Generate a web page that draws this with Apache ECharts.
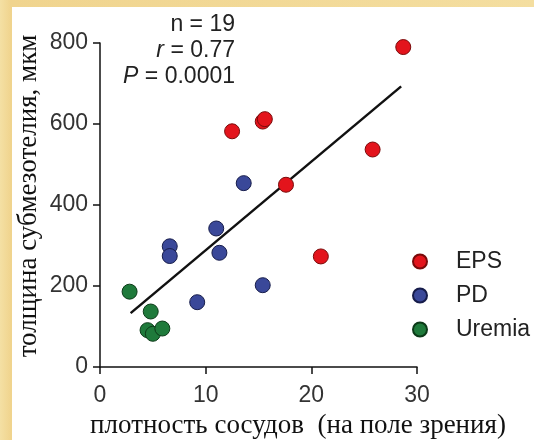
<!DOCTYPE html>
<html>
<head>
<meta charset="utf-8">
<script src="https://cdn.jsdelivr.net/npm/echarts@6/dist/echarts.min.js"></script>
<style>
  html,body{margin:0;padding:0;}
  body{width:534px;height:440px;background:linear-gradient(90deg,#f4e0a4,#f0d48e 2%,#f4dea0);position:relative;overflow:hidden;}
  #paper{position:absolute;left:12px;top:7px;width:522px;height:433px;background:#fff;}
  #chart{position:absolute;left:0;top:0;width:534px;height:440px;}
</style>
</head>
<body>
<div id="paper"></div>
<div id="chart"></div>
<script>
// группы и значения (плотность сосудов, толщина субмезотелия)
let groups = ["EPS", "PD", "Uremia"];
let epsX = [28.7, 12.5, 15.4, 15.6, 25.8, 17.6, 20.9];
let epsY = [790, 582, 606, 612, 537, 450, 273];
let pdX = [13.6, 11.0, 6.6, 6.6, 11.3, 15.4, 9.2];
let pdY = [454, 342, 298, 274, 282, 202, 160];
let uremiaX = [2.8, 4.8, 4.5, 5.0, 5.9];
let uremiaY = [186, 137, 91, 82, 95];
// линия регрессии (концы)
let lineX = [2.9, 28.5];
let lineY = [133, 693];
let xTicks = [0, 10, 20, 30];
let yTicks = [0, 200, 400, 600, 800];
let colors = ["#e3141c", "#3a4899", "#1f7a3b"];
let borders = ["#7a0a0a", "#161c4a", "#0c3a18"];

let chart = {
    pairs:(xs, ys)=>xs.map((x, i)=>[x, ys[i]]),
    init:()=>{
        let myChart = echarts.init(document.getElementById('chart'), null, {renderer:'canvas'});
        let sets = [[epsX, epsY], [pdX, pdY], [uremiaX, uremiaY]];
        let series = groups.map((g, i)=>({
            name: g,
            type: 'scatter',
            symbolSize: 15,
            itemStyle: {color: colors[i], borderColor: borders[i], borderWidth: 1, opacity: 1},
            data: chart.pairs(sets[i][0], sets[i][1]),
            z: 3
        }));
        series.push({
            name: 'fit',
            type: 'line',
            data: chart.pairs(lineX, lineY),
            symbol: 'none',
            lineStyle: {color: '#111', width: 2.5},
            z: 2
        });

        let sans = 'Liberation Sans, Arial';
        let option = {
            animation: false,
            backgroundColor: 'transparent',
            grid: {left: 100, right: 117, top: 43, bottom: 73, containLabel: false},
            xAxis: {
                type: 'value',
                min: xTicks[0], max: xTicks[xTicks.length-1], interval: 10,
                axisLine: {show: true, onZero: false, lineStyle: {color: '#111', width: 1.5}},
                axisTick: {show: true, inside: false, length: 7, lineStyle: {color: '#111', width: 1.5}},
                axisLabel: {color: '#333', fontSize: 23, fontFamily: sans, margin: 17},
                splitLine: {show: false}
            },
            yAxis: {
                type: 'value',
                min: yTicks[0], max: yTicks[yTicks.length-1], interval: 200,
                axisLine: {show: true, onZero: false, lineStyle: {color: '#111', width: 1.5}},
                axisTick: {show: true, inside: false, length: 7, lineStyle: {color: '#111', width: 1.5}},
                axisLabel: {color: '#333', fontSize: 23, fontFamily: sans, margin: 12},
                splitLine: {show: false}
            },
            legend: {
                data: groups,
                orient: 'vertical',
                left: 407, top: 245,
                icon: 'circle',
                itemWidth: 14, itemHeight: 14,
                itemGap: 11,
                textStyle: {color: '#222', fontSize: 23, fontFamily: sans, lineHeight: 23, padding: [0,0,0,24]}
            },
            graphic: [
                {type: 'text', right: 534-235, top: 13, style: {text: 'n = 19', font: '23px Liberation Sans, Arial', fill: '#222'}},
                {type: 'text', right: 534-235, top: 39, style: {
                    text: '{i|r} = 0.77', font: '23px Liberation Sans, Arial', fill: '#222',
                    rich: {i: {fontStyle: 'italic', fontSize: 23, fontFamily: sans, fill: '#222'}}}},
                {type: 'text', right: 534-235, top: 65, style: {
                    text: '{i|P} = 0.0001', font: '23px Liberation Sans, Arial', fill: '#222',
                    rich: {i: {fontStyle: 'italic', fontSize: 23, fontFamily: sans, fill: '#222'}}}},
                {type: 'text', x: 298, y: 426, style: {
                    text: 'плотность сосудов  (на поле зрения)', font: '27px Liberation Serif, Times New Roman',
                    fill: '#111', align: 'center', verticalAlign: 'middle'}},
                {type: 'text', x: 29, y: 196, rotation: Math.PI/2, style: {
                    text: 'толщина субмезотелия, мкм', font: '27px Liberation Serif, Times New Roman',
                    fill: '#111', align: 'center', verticalAlign: 'middle'}}
            ],
            series: series
        };
        myChart.setOption(option);
    }//init-------end
}

chart.init();
</script>
</body>
</html>
